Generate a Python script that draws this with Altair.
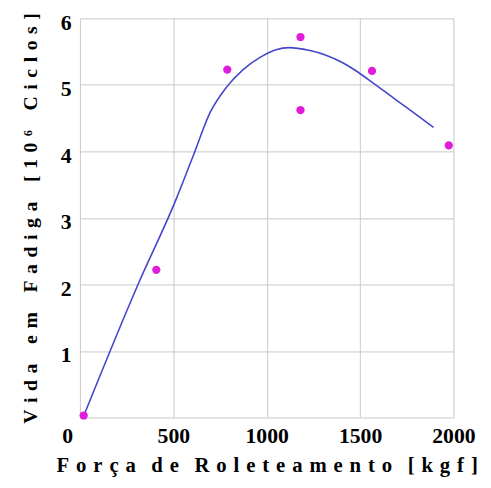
import altair as alt
import pandas as pd

# Measured points
force_pts = [20, 409, 789, 1181, 1181, 1564, 1975]
life_pts = [0.03, 2.22, 5.23, 5.72, 4.62, 5.21, 4.09]

# Fitted curve
curve_x = [21, 311, 512, 602, 698, 786, 874, 962, 1050, 1120, 1226, 1314, 1402, 1490, 1578, 1666, 1754, 1894]
curve_y = [0.03, 2.0, 3.26, 3.90, 4.59, 4.97, 5.23, 5.41, 5.53, 5.56, 5.52, 5.45, 5.34, 5.19, 5.01, 4.83, 4.65, 4.36]

x_ticks = [0, 500, 1000, 1500, 2000]
y_ticks = [0, 1, 2, 3, 4, 5, 6]

NB = "\u00a0"
HS = "\u200a"


def spaced(words, gap, wordgap):
    return wordgap.join(gap.join(list(w)) for w in words)


x_title = spaced(["Força", "de", "Roleteamento", "[kgf]"], NB + HS, NB * 3)
y_title = spaced(["Vida", "em", "Fadiga", "[10⁶", "Ciclos]"], NB + HS, NB * 4)

pts = pd.DataFrame({"forca": force_pts, "vida": life_pts})
curve = pd.DataFrame({"forca": curve_x, "vida": curve_y})

FONT = "Liberation Serif"

x_scale = alt.Scale(domain=[0, 2000], nice=False, zero=False)
y_scale = alt.Scale(domain=[0, 6], nice=False)

x_axis = alt.Axis(
    values=x_ticks, title=x_title, grid=True, ticks=False, domain=False, format="d",
    labelOffset={"condition": {"test": "datum.value == 0", "value": -13}, "value": 0},
    labelPadding=8, titlePadding=9, labelFlush=False, labelOverlap=False,
    titleFontSize=21,
)
y_axis = alt.Axis(
    values=y_ticks, title=y_title, grid=True, ticks=False, domain=False, format="d",
    labelExpr="datum.value == 0 ? '' : datum.label",
    labelPadding=9, labelOffset=4, titlePadding=20, labelFlush=False,
    titleFontSize=20,
)

line = alt.Chart(curve).mark_line(color="#4646CC", strokeWidth=1.6, interpolate="monotone").encode(
    x=alt.X("forca:Q", scale=x_scale, axis=x_axis),
    y=alt.Y("vida:Q", scale=y_scale, axis=y_axis),
)
points = alt.Chart(pts).mark_point(filled=True, size=70, color="#E01CDC", opacity=1).encode(
    x=alt.X("forca:Q", scale=x_scale),
    y=alt.Y("vida:Q", scale=y_scale),
)

chart = alt.layer(line, points).properties(
    width=379, height=405,
    autosize=alt.AutoSizeParams(type="none"),
    padding={"left": 73, "top": 7, "right": 30, "bottom": 67},
    background="white",
).configure_view(stroke=None).configure_axis(
    gridColor="#c8c8c8", gridWidth=1, gridOpacity=1,
    labelFont=FONT, labelFontWeight="bold", labelFontSize=22, labelColor="black",
    titleFont=FONT, titleFontWeight="bold", titleFontSize=22, titleColor="black",
)

chart.save("out.html", embed_options={"renderer": "svg", "actions": False})
